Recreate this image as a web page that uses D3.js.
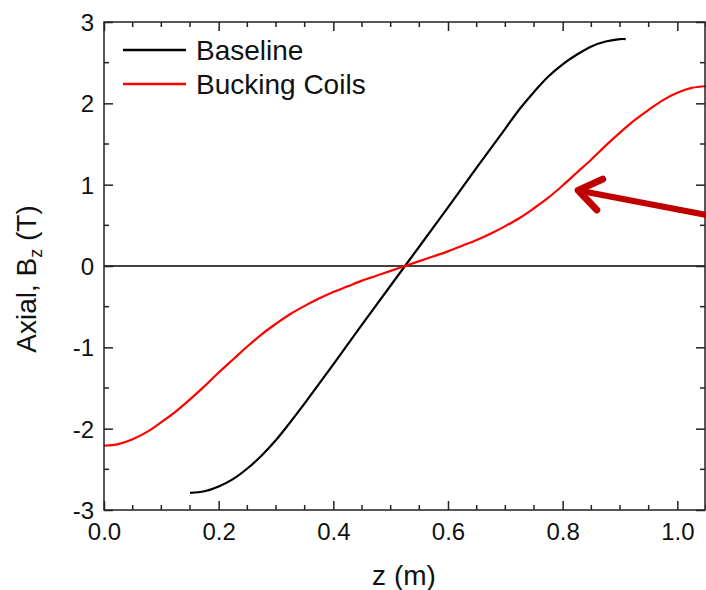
<!DOCTYPE html>
<html>
<head>
<meta charset="utf-8">
<script src="https://cdn.jsdelivr.net/npm/d3@7"></script>
<style>
  body { margin: 0; background: #fff; }
  svg { display: block; font-family: "Liberation Sans", Arial, sans-serif; }
</style>
</head>
<body>
<svg></svg>
<script>

// baseline field (z in m, Bz in T)
var baselineZ = [0.150, 0.175, 0.200, 0.225, 0.250, 0.275, 0.300, 0.325, 0.350, 0.375, 0.400, 0.450, 0.500, 0.525,
                 0.550, 0.600, 0.650, 0.675, 0.700, 0.725, 0.750, 0.775, 0.800, 0.825, 0.850, 0.875, 0.900, 0.910];
var baselineB = [-2.79, -2.77, -2.71, -2.62, -2.49, -2.33, -2.14, -1.92, -1.69, -1.45, -1.21, -0.72, -0.24, 0,
                 0.24, 0.72, 1.21, 1.45, 1.69, 1.93, 2.14, 2.33, 2.48, 2.60, 2.70, 2.76, 2.79, 2.79];

// with bucking coils
var buckingZ = [0.000, 0.025, 0.050, 0.075, 0.100, 0.125, 0.150, 0.175, 0.200, 0.225, 0.250, 0.275, 0.300, 0.325,
                0.350, 0.375, 0.400, 0.425, 0.450, 0.475, 0.500, 0.525, 0.550, 0.575, 0.600, 0.625, 0.650, 0.675,
                0.700, 0.725, 0.750, 0.775, 0.800, 0.825, 0.850, 0.875, 0.900, 0.925, 0.950, 0.975, 1.000, 1.025, 1.050];
var buckingB = [-2.21, -2.19, -2.13, -2.04, -1.92, -1.79, -1.64, -1.48, -1.31, -1.15, -0.99, -0.84, -0.71, -0.59,
                -0.49, -0.40, -0.32, -0.25, -0.18, -0.12, -0.06, 0, 0.06, 0.12, 0.18, 0.25, 0.32, 0.40,
                0.49, 0.59, 0.71, 0.84, 0.99, 1.15, 1.31, 1.48, 1.64, 1.79, 1.92, 2.04, 2.13, 2.19, 2.21];

var seriesNames = ['Baseline', 'Bucking Coils'];
var seriesColors = ['#000000', '#ff0000'];

var xTicks = [0.0, 0.2, 0.4, 0.6, 0.8, 1.0];
var yTicks = [-3, -2, -1, 0, 1, 2, 3];

// annotation arrow, in data units: tip and tail
var arrowTip = [0.827, 0.93];
var arrowTail = [1.056, 0.62];

var width = 706;
var height = 590;
var plotL = 104, plotR = 705, plotT = 22, plotB = 510;

var svg = d3.select('svg')
    .attr('width', width)
    .attr('height', height);

var xScale = d3.scaleLinear()
    .domain([0, 1.05])
    .range([plotL, 706]);

var yScale = d3.scaleLinear()
    .domain([-3, 3])
    .range([plotB, plotT]);

var series = [
  baselineZ.map((z, i) => ({ z: z, b: baselineB[i] })),
  buckingZ.map((z, i) => ({ z: z, b: buckingB[i] }))
];

var line = d3.line()
    .x(d => xScale(d.z))
    .y(d => yScale(d.b))
    .curve(d3.curveCatmullRom.alpha(0.5));

var axisColor = '#222';

// zero line
svg.append('line')
    .attr('x1', plotL).attr('x2', plotR)
    .attr('y1', yScale(0)).attr('y2', yScale(0))
    .attr('stroke', '#000')
    .attr('stroke-width', 1.5);

// curves
svg.selectAll('path.curve')
  .data(series)
  .enter()
  .append('path')
    .attr('class', 'curve')
    .attr('d', line)
    .attr('fill', 'none')
    .attr('stroke', (d, i) => seriesColors[i])
    .attr('stroke-width', 2.2);

// axes, ticks pointing in, mirrored on top / right
var xMinor = d3.range(0, 1.051, 0.05).filter(v => Math.abs(v * 5 - Math.round(v * 5)) > 1e-6);
var yMinor = d3.range(-2.5, 3, 1);

var bottomAxis = d3.axisBottom(xScale).tickValues(xTicks).tickFormat(d3.format('.1f')).tickSizeInner(-9).tickSizeOuter(0).tickPadding(13);
var topAxis = d3.axisTop(xScale).tickValues(xTicks).tickFormat('').tickSizeInner(-9).tickSizeOuter(0);
var leftAxis = d3.axisLeft(yScale).tickValues(yTicks).tickFormat(d => String(d)).tickSizeInner(-9).tickSizeOuter(0).tickPadding(10);
var rightAxis = d3.axisRight(yScale).tickValues(yTicks).tickFormat('').tickSizeInner(-9).tickSizeOuter(0);

function minorX(g, dir) {
  g.selectAll('.minor').data(xMinor).enter().append('line')
    .attr('x1', d => xScale(d)).attr('x2', d => xScale(d))
    .attr('y1', 0).attr('y2', dir * 5)
    .attr('stroke', axisColor).attr('stroke-width', 1.5);
}
function minorY(g, dir) {
  g.selectAll('.minor').data(yMinor).enter().append('line')
    .attr('y1', d => yScale(d)).attr('y2', d => yScale(d))
    .attr('x1', 0).attr('x2', dir * 5)
    .attr('stroke', axisColor).attr('stroke-width', 1.5);
}

var gb = svg.append('g').attr('transform', `translate(0, ${plotB})`).call(bottomAxis);
minorX(gb, -1);
var gt = svg.append('g').attr('transform', `translate(0, ${plotT})`).call(topAxis);
minorX(gt, 1);
var gl = svg.append('g').attr('transform', `translate(${plotL}, 0)`).call(leftAxis);
minorY(gl, 1);
var gr = svg.append('g').attr('transform', `translate(${plotR}, 0)`).call(rightAxis);
minorY(gr, -1);

svg.selectAll('.domain').remove();
svg.selectAll('.tick line').attr('stroke', axisColor).attr('stroke-width', 1.5);
svg.selectAll('.tick text')
    .attr('fill', '#111')
    .style('font-family', '"Liberation Sans", Arial, sans-serif')
    .style('font-size', '24px');
gb.selectAll('.tick text').attr('dy', '0.71em');
gl.selectAll('.tick text').attr('dy', '0.35em');

// frame
svg.append('rect')
    .attr('x', plotL).attr('y', plotT)
    .attr('width', plotR - plotL).attr('height', plotB - plotT)
    .attr('fill', 'none')
    .attr('stroke', axisColor)
    .attr('stroke-width', 1.5);

// legend
var legend = svg.selectAll('g.legend')
  .data(seriesNames)
  .enter()
  .append('g')
    .attr('class', 'legend')
    .attr('transform', (d, i) => `translate(123, ${50 + i * 34})`);

legend.append('line')
    .attr('x1', 0).attr('x2', 63)
    .attr('stroke', (d, i) => seriesColors[i])
    .attr('stroke-width', 2.5);

legend.append('text')
    .attr('x', 73)
    .attr('dy', '0.35em')
    .style('font-size', '28px')
    .attr('fill', '#111')
    .text(d => d);

// axis titles
svg.append('text')
    .attr('x', 404)
    .attr('y', 585)
    .style('text-anchor', 'middle')
    .style('font-size', '28px')
    .attr('fill', '#111')
    .text('z (m)');

var yTitle = svg.append('text')
    .attr('transform', 'translate(36, 279) rotate(-90)')
    .style('text-anchor', 'middle')
    .style('font-size', '28px')
    .attr('fill', '#111');
yTitle.append('tspan').text('Axial, B');
yTitle.append('tspan').attr('dy', 6).style('font-size', '18px').text('z');
yTitle.append('tspan').attr('dy', -6).text(' (T)');

// arrow pointing at the bucking coil curve
var tip = [xScale(arrowTip[0]), yScale(arrowTip[1])];
var tail = [xScale(arrowTail[0]), yScale(arrowTail[1])];
var ang = Math.atan2(tail[1] - tip[1], tail[0] - tip[0]);
var headLen = 27, spread = 0.62;
var arm1 = [tip[0] + headLen * Math.cos(ang - spread), tip[1] + headLen * Math.sin(ang - spread)];
var arm2 = [tip[0] + headLen * Math.cos(ang + spread), tip[1] + headLen * Math.sin(ang + spread)];

svg.append('path')
    .attr('d', `M${tail[0]},${tail[1]}L${tip[0] + 3},${tip[1] + 0.6}`)
    .attr('fill', 'none')
    .attr('stroke', '#c00000')
    .attr('stroke-width', 6);
svg.append('path')
    .attr('d', `M${arm1[0]},${arm1[1]}L${tip[0]},${tip[1]}L${arm2[0]},${arm2[1]}`)
    .attr('fill', 'none')
    .attr('stroke', '#c00000')
    .attr('stroke-width', 7)
    .attr('stroke-linecap', 'round')
    .attr('stroke-linejoin', 'round');

</script>
</body>
</html>
